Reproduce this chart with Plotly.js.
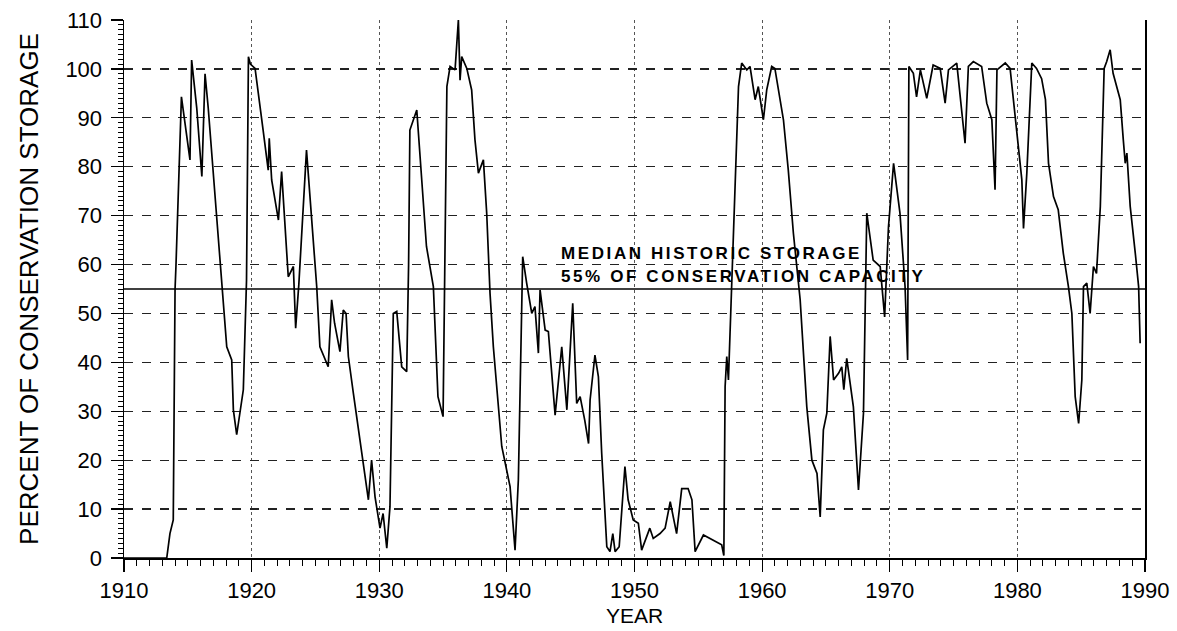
<!DOCTYPE html>
<html>
<head>
<meta charset="utf-8">
<script src="https://cdn.plot.ly/plotly-3.0.1.min.js"></script>
<style>
html,body{margin:0;padding:0;background:#fff;}
#chart{width:1177px;height:631px;}
.annotation-text{letter-spacing:2.6px;}
</style>
</head>
<body>
<div id="chart"></div>
<script>
const years = [1910.0,1913.35,1913.6,1913.86,1914.0,1914.07,1914.5,1915.17,1915.3,1915.7,1916.1,1916.35,1916.6,1917.26,1917.65,1918.05,1918.44,1918.57,1918.83,1919.1,1919.35,1919.6,1919.75,1919.9,1920.27,1920.9,1921.3,1921.38,1921.57,1922.1,1922.35,1922.87,1923.27,1923.45,1923.7,1924.3,1925.1,1925.35,1925.75,1926.0,1926.27,1926.5,1926.92,1927.18,1927.4,1927.58,1927.97,1928.5,1929.15,1929.4,1929.67,1930.06,1930.3,1930.59,1930.84,1931.1,1931.37,1931.76,1932.15,1932.3,1932.4,1932.94,1933.7,1934.24,1934.6,1935.0,1935.3,1935.55,1935.94,1936.2,1936.33,1936.46,1936.86,1937.24,1937.5,1937.77,1938.16,1938.42,1938.68,1938.94,1939.6,1940.25,1940.64,1940.9,1941.17,1941.24,1941.55,1941.95,1942.2,1942.47,1942.6,1943.0,1943.25,1943.78,1944.3,1944.7,1945.16,1945.47,1945.74,1946.1,1946.4,1946.52,1946.9,1947.17,1947.43,1947.83,1948.08,1948.3,1948.48,1948.8,1949.25,1949.5,1949.9,1950.3,1950.56,1951.2,1951.47,1952.0,1952.4,1952.8,1953.3,1953.7,1954.2,1954.5,1954.75,1955.4,1956.83,1957.0,1957.1,1957.23,1957.36,1957.6,1958.15,1958.4,1958.8,1959.05,1959.45,1959.7,1960.1,1960.36,1960.75,1961.0,1961.27,1961.67,1962.05,1962.45,1962.98,1963.5,1963.9,1964.3,1964.55,1964.8,1965.07,1965.33,1965.6,1966.0,1966.24,1966.4,1966.63,1967.15,1967.55,1967.94,1968.2,1968.7,1969.25,1969.6,1969.9,1970.3,1970.8,1971.2,1971.4,1971.5,1971.85,1972.1,1972.4,1972.9,1973.4,1973.95,1974.34,1974.6,1975.25,1975.9,1976.16,1976.55,1977.2,1977.6,1978.0,1978.25,1978.4,1979.05,1979.43,1979.83,1980.1,1980.35,1980.48,1980.74,1981.13,1981.5,1981.9,1982.2,1982.44,1982.83,1983.2,1983.6,1984.0,1984.27,1984.53,1984.8,1985.05,1985.18,1985.44,1985.57,1985.7,1985.96,1986.2,1986.5,1986.6,1986.8,1987.0,1987.27,1987.5,1988.06,1988.3,1988.45,1988.58,1988.84,1989.24,1989.5,1989.62];
const storage = [0,0,5,7.8,55,59.6,94.3,81.4,101.8,92,78,99,92,70.5,56.8,43.2,40.5,30.3,25.2,30.3,34.4,56.8,102.5,101,100.1,87.5,79.3,85.8,77.3,69.1,79,57.5,59.6,47,56,83.4,55.5,43.2,40.5,39.1,52.8,48,42.2,50.7,50,41.2,33.7,24.1,11.9,20,12.5,6.1,9.1,2,10.5,50,50.4,39.1,38.1,60,87.5,91.6,63.7,55.5,33,28.9,96.4,100.5,99.8,110,97.7,102.5,100.1,95.7,85.5,78.7,81.4,70.5,54.1,43.2,22.8,14.6,1.6,16,54.8,61.6,56.2,50,51.4,41.9,54.8,46.6,46.3,29.2,43.2,30.3,52.1,31.6,33,28.2,23.4,32.3,41.5,37.1,21.4,2.3,1.3,5,1.3,2.3,18.7,11.9,7.8,7.1,1.6,6.1,4,5,6.1,11.5,5,14.2,14.2,11.9,1.3,4.7,2.7,0.5,35,41.2,36.4,55.5,96.4,101.2,99.8,100.5,93.7,96.4,89.6,95.7,100.5,100.1,95.7,89.6,79.3,66.4,52.8,30.9,20,17.3,8.4,26.2,29.6,45.3,36.4,37.8,39.1,34.4,40.8,30.9,13.9,29.6,70.5,60.9,59.6,49.3,67.7,80.7,70.5,55.5,40.5,100.5,99.1,94.3,99.8,94,100.8,100.1,93,99.8,101.2,84.8,100.5,101.5,100.5,93,89.6,75.3,99.8,101.2,100.1,90.3,82.8,77.3,67.4,78.7,101.2,100.1,98,93.7,80.7,73.9,71.2,62.3,55.5,50,33,27.5,36.4,55.5,56.2,53.4,50,59.6,58.2,71.9,82.8,100.1,101.5,103.9,99.1,93.7,85.5,80.7,82.8,71.9,62.3,55.5,43.9];
const medianValue = 55;
const noteLines = ["MEDIAN HISTORIC STORAGE", "55% OF CONSERVATION CAPACITY"];
const xTicks = [1910,1920,1930,1940,1950,1960,1970,1980,1990];
const yTicks = [0,10,20,30,40,50,60,70,80,90,100,110];

const fam = '"Liberation Sans", Arial, sans-serif';
const trace = {
  x: years, y: storage, type: 'scatter', mode: 'lines',
  line: {color: '#000', width: 1.7}, hoverinfo: 'skip'
};
const layout = {
  width: 1177, height: 631,
  margin: {l: 124, r: 32, t: 20, b: 73},
  paper_bgcolor: '#fff', plot_bgcolor: '#fff',
  showlegend: false,
  font: {family: fam, color: '#000'},
  xaxis: {
    range: [1910, 1990], tickvals: xTicks, ticktext: xTicks.map(String),
    ticks: 'outside', ticklen: 12, tickwidth: 1.2, tickcolor: '#000',
    minor: {dtick: 1, ticks: 'outside', ticklen: 6, tickcolor: '#000', tickwidth: 1, showgrid: false},
    showgrid: true, gridcolor: '#555', griddash: 'dot', gridwidth: 1,
    showline: true, linecolor: '#000', linewidth: 1.5, mirror: false,
    zeroline: false, tickfont: {size: 22, family: fam},
    title: {text: 'YEAR', font: {size: 21, family: fam}, standoff: 6}
  },
  yaxis: {
    range: [0, 110], tickvals: yTicks, ticktext: yTicks.map(String),
    ticks: 'outside', ticklen: 12, tickwidth: 1.2, tickcolor: '#000',
    ticklabelstandoff: 4,
    minor: {dtick: 1, ticks: 'outside', ticklen: 5, tickcolor: '#000', tickwidth: 1, showgrid: false},
    showgrid: true, gridcolor: '#222', griddash: 'dash', gridwidth: 1.2,
    showline: true, linecolor: '#000', linewidth: 1.5, mirror: true,
    zeroline: false, tickfont: {size: 22, family: fam},
    title: {text: 'PERCENT OF CONSERVATION STORAGE', font: {size: 26, family: fam}, standoff: 19}
  },
  shapes: [{
    type: 'line', xref: 'paper', x0: 0, x1: 1, yref: 'y', y0: medianValue, y1: medianValue,
    line: {color: '#000', width: 1.6}
  }],
  annotations: [
    {xref: 'x', yref: 'y', x: 1944.1, y: 62.2, text: '<b>' + noteLines[0] + '</b>', showarrow: false,
     xanchor: 'left', yanchor: 'middle', font: {size: 17, family: fam, color: '#000', weight: 'bold'}},
    {xref: 'x', yref: 'y', x: 1944.1, y: 57.5, text: '<b>' + noteLines[1] + '</b>', showarrow: false,
     xanchor: 'left', yanchor: 'middle', font: {size: 17, family: fam, color: '#000', weight: 'bold'}}
  ]
};
Plotly.newPlot('chart', [trace], layout, {staticPlot: true, displayModeBar: false});
</script>
</body>
</html>
